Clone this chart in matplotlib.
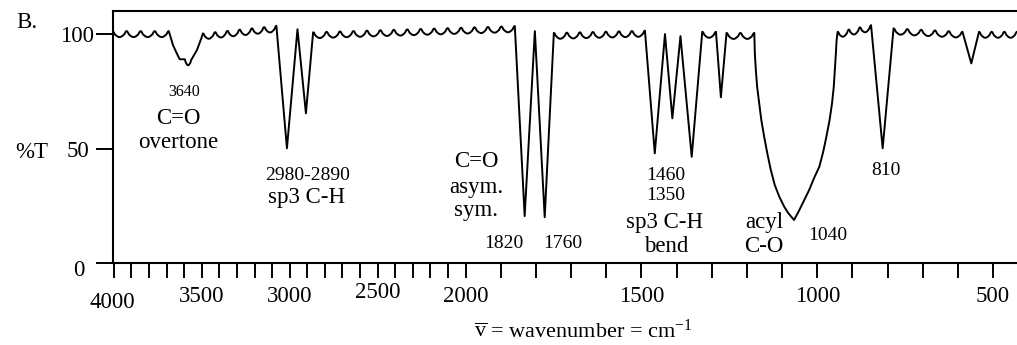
import numpy as np
import matplotlib
matplotlib.use("Agg")
import matplotlib.pyplot as plt
from matplotlib.path import Path
from matplotlib.patheffects import AbstractPathEffect
from matplotlib.transforms import Affine2D, ScaledTranslation

# --- spectrum: wavenumber (cm-1) and %T at each corner of the trace ---
wavenumber = [4008, 3688, 3664, 3645, 3626, 3598, 3558, 3528, 3503, 3494,
              3076, 3016, 2956, 2908, 2867, 1860, 1832, 1803, 1775, 1749,
              1490, 1462, 1433, 1412, 1389, 1357, 1327, 1288, 1274, 1258,
              1179, 1177.5, 1174.6, 1171, 1165, 1159, 1151, 1142, 1132, 1121,
              1108, 1094, 1082, 1066, 1051, 1037, 1023, 1009, 994, 983,
              974, 965, 958, 953, 950, 947, 945, 942, 847, 814,
              783, 587, 562, 540, 432]
transmittance = [101.3, 101.3, 95.2, 92.0, 89.0, 89.0, 89.0, 93.0, 98.1, 100.3,
                 103.6, 50.1, 102.1, 65.4, 100.8, 103.5, 20.5, 101.3, 20.0, 100.5,
                 101.5, 47.9, 100.0, 63.2, 99.1, 46.4, 101.0, 101.0, 72.4, 100.5,
                 100.5, 91.6, 84.3, 77.0, 69.7, 62.4, 55.2, 47.9, 40.6, 34.1,
                 29.0, 24.6, 21.7, 18.8, 23.1, 27.5, 31.9, 37.1, 42.1, 48.6,
                 55.2, 62.4, 69.7, 77.0, 84.3, 91.6, 97.3, 101.0, 103.9, 50.1,
                 102.5, 101.0, 87.2, 101.0, 101.0]

x_ticks = list(range(4000, 499, -100))
x_labels = [str(v) if v % 500 == 0 else "" for v in x_ticks]
y_ticks = [0, 50, 100]
y_labels = ["0", "50", "100"]


class Scallops(AbstractPathEffect):
    """Draw the (nearly) flat stretches of the trace as a row of small joined u's."""

    def __init__(self, width=9.4, depth=4.3, max_slope=0.25):
        super().__init__()
        self.width, self.depth, self.max_slope = width, depth, max_slope

    def draw_path(self, renderer, gc, tpath, affine, rgbFace=None):
        w = renderer.points_to_pixels(self.width)
        d = renderer.points_to_pixels(self.depth)
        pts = affine.transform(tpath.vertices)
        out = [pts[0]]
        for a, b in zip(pts[:-1], pts[1:]):
            dx, dy = b - a
            if abs(dx) > 0.4 * w and abs(dy) <= self.max_slope * abs(dx):
                n = max(1, int(round(abs(dx) / w)))
                t = np.linspace(0, 1, 24 * n + 1)[1:]
                ph = (t * n) % 1.0
                # narrow rounded tops, wide rounded bottoms
                s = np.interp(ph, [0, 0.15, 0.85, 1], [0, 0.25, 0.75, 1])
                cup = (1 - np.cos(2 * np.pi * s)) / 2
                out.extend(np.column_stack([a[0] + dx * t, a[1] + dy * t - d * cup]))
            else:
                out.append(b)
        renderer.draw_path(gc, Path(np.array(out)), Affine2D(), rgbFace)


# IR chart axis: scale doubles below 2000 cm-1
def fwd(v):
    v = np.asarray(v, dtype=float)
    return np.where(v >= 2000, v, 2 * v - 2000)


def inv(u):
    u = np.asarray(u, dtype=float)
    return np.where(u >= 2000, u, (u + 2000) / 2)


plt.rcParams["font.family"] = "Liberation Serif"
plt.rcParams["mathtext.fontset"] = "custom"
plt.rcParams["mathtext.rm"] = "Liberation Serif"
plt.rcParams["mathtext.it"] = "Liberation Serif:italic"
plt.rcParams["path.simplify"] = False

W, H = 1017, 345
fig = plt.figure(figsize=(W / 100, H / 100), dpi=100)
ax = fig.add_axes([112.5 / W, 1 - 263 / H, 1 - 112.5 / W, (263 - 10.5) / H])

ax.set_xscale("function", functions=(fwd, inv))
ax.plot(wavenumber, transmittance, color="black", lw=1.4,
        path_effects=[Scallops()], solid_joinstyle="round")
ax.set_xlim(4008, 432)
ax.set_ylim(0, 110.3)

for s in ["left", "top", "bottom"]:
    ax.spines[s].set_linewidth(1.5)
ax.spines["right"].set_visible(False)

ax.set_xticks(x_ticks)
ax.set_xticklabels(x_labels)
ax.xaxis.set_minor_locator(plt.NullLocator())
ax.tick_params(axis="x", direction="out", length=10.8, width=1.4, pad=6, labelsize=16.5)
ax.set_yticks(y_ticks)
ax.set_yticklabels(y_labels)
ax.tick_params(axis="y", direction="out", length=12, width=1.4, pad=1, labelsize=16.5)

# hand-drawn label offsets (pixels)
xshift = {"4000": (-2, -6), "2500": (0, 4.5)}
for lab in ax.get_xticklabels():
    if lab.get_text() in xshift:
        dx, dy = xshift[lab.get_text()]
        lab.set_transform(lab.get_transform() + ScaledTranslation(dx / 100, dy / 100, fig.dpi_scale_trans))
yshift = {"50": (-5, 0), "0": (-10, -5)}
for lab in ax.get_yticklabels():
    if lab.get_text() in yshift:
        dx, dy = yshift[lab.get_text()]
        lab.set_transform(lab.get_transform() + ScaledTranslation(dx / 100, dy / 100, fig.dpi_scale_trans))

big, mid, small = 16.5, 14, 11.5
notes = [
    (3598, 74.7, "3640", small), (3632, 63.3, "C=O", big), (3632, 52.8, "overtone", big),
    (2901, 38.4, "2980-2890", mid), (2906, 28.4, "sp3 C-H", big),
    (1969, 44.2, "C=O", big), (1969, 32.8, "asym.", big), (1969, 23.1, "sym.", big),
    (1892, 8.7, "1820", mid), (1724, 8.7, "1760", mid),
    (1430, 38.4, "1460", mid), (1430, 29.7, "1350", mid),
    (1433, 17.5, "sp3 C-H", big), (1430, 7.1, "bend", big),
    (1151, 17.5, "acyl", big), (1151, 7.1, "C-O", big),
    (969, 12.2, "1040", mid), (806, 40.6, "810", mid),
]
for x, y, s, fs in notes:
    ax.text(x, y, s, fontsize=fs, ha="center", va="center")

fig.text(16 / W, 1 - 22 / H, "B.", fontsize=big, ha="left", va="center")
fig.text(32 / W, 1 - 152 / H, "%T", fontsize=big, ha="center", va="center")
fig.text(583 / W, 1 - 331 / H, r"$\overline{\mathrm{v}}$ = wavenumber = cm$^{-1}$",
         fontsize=16, ha="center", va="center")

fig.savefig("out.png", dpi=100)
plt.close(fig)
